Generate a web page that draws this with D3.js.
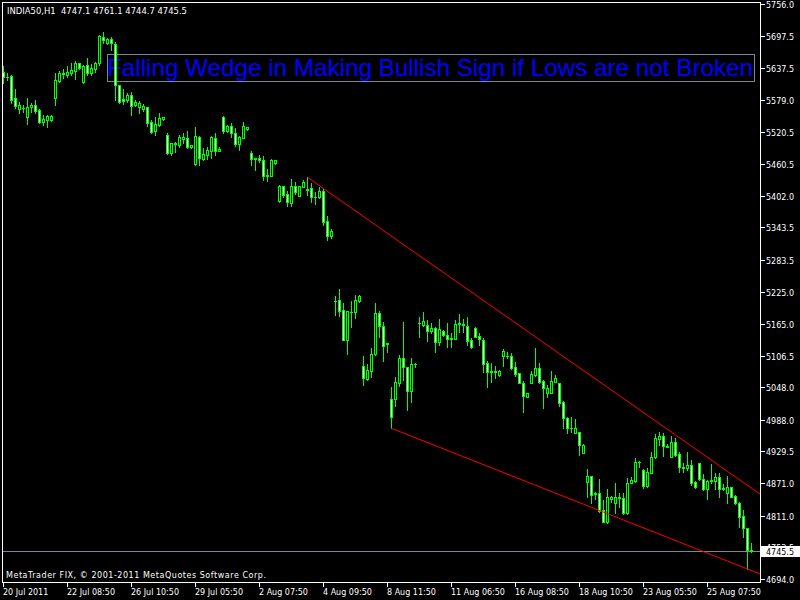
<!DOCTYPE html>
<html><head><meta charset="utf-8">
<script src="https://cdn.jsdelivr.net/npm/d3@7"></script>
<style>html,body{margin:0;padding:0;background:#000;overflow:hidden}</style>
</head><body><svg id="c" width="800" height="600"></svg>
<script>
const symbol = "INDIA50,H1";
const open = [5631.0,5622.0,5623.0,5581.8,5562.1,5563.3,5547.9,5566.4,5568.9,5560.2,5538.7,5541.8,5541.8,5581.8,5614.4,5626.1,5624.3,5628.0,5632.9,5646.4,5612.6,5643.4,5628.0,5635.3,5646.4,5695.7,5683.4,5690.8,5682.1,5606.4,5580.6,5578.7,5587.9,5570.1,5566.4,5562.1,5565.2,5537.5,5521.4,5532.5,5543.0,5513.4,5481.4,5496.8,5495.6,5507.3,5507.9,5491.3,5459.9,5509.7,5469.7,5477.1,5485.1,5507.9,5485.1,5547.9,5522.1,5530.7,5517.1,5496.8,5509.1,5524.5,5481.4,5471.6,5472.2,5467.9,5440.2,5439.0,5463.0,5392.8,5419.9,5404.5,5389.0,5419.9,5402.0,5418.6,5413.7,5415.5,5400.1,5400.1,5410.6,5355.2,5328.1,5208.0,5209.3,5190.8,5135.4,5187.7,5187.7,5207.4,5087.4,5062.8,5078.8,5109.5,5184.7,5161.9,5129.2,5025.8,5025.8,5055.4,5101.5,5084.9,5041.8,5090.4,5167.4,5163.1,5163.1,5152.0,5157.0,5132.3,5152.6,5144.6,5138.5,5137.8,5166.2,5164.4,5161.9,5135.4,5157.0,5142.8,5135.4,5092.3,5078.2,5076.3,5070.2,5106.5,5106.5,5105.3,5084.9,5073.8,5056.6,5030.7,5056.6,5070.8,5083.1,5059.7,5038.1,5038.1,5058.5,5055.4,5020.3,4992.0,4972.3,4964.3,4964.9,4927.3,4873.7,4884.8,4852.2,4852.2,4821.4,4799.9,4842.3,4833.7,4844.8,4843.0,4815.3,4871.9,4875.6,4909.5,4895.3,4866.4,4890.4,4918.7,4953.2,4958.1,4940.2,4919.9,4947.6,4924.2,4901.4,4898.4,4904.5,4873.1,4907.6,4878.7,4859.6,4875.6,4875.6,4881.7,4862.7,4853.4,4863.3,4847.3,4833.7,4810.9,4787.6,4747.1];
const high = [5641.5,5629.0,5625.0,5598.4,5575.6,5569.5,5581.8,5572.5,5578.7,5561.5,5551.0,5551.0,5551.0,5628.0,5632.3,5635.3,5641.5,5646.4,5650.7,5647.7,5643.4,5655.7,5644.6,5648.9,5698.8,5704.9,5692.6,5694.5,5686.5,5606.4,5598.4,5591.0,5592.9,5578.7,5577.5,5570.7,5565.2,5541.8,5547.9,5554.1,5546.7,5517.1,5499.9,5501.7,5514.1,5517.1,5522.1,5495.6,5528.2,5512.2,5489.4,5491.3,5512.2,5517.1,5492.5,5549.1,5532.5,5535.6,5526.4,5512.2,5538.7,5528.2,5485.1,5471.6,5477.1,5475.3,5451.3,5469.7,5467.9,5421.7,5419.9,5410.6,5432.2,5427.2,5419.9,5431.0,5435.9,5424.8,5409.4,5418.6,5415.5,5364.4,5340.4,5217.3,5229.6,5203.1,5189.0,5207.4,5218.5,5218.5,5105.8,5091.0,5120.0,5203.1,5189.0,5168.0,5129.2,5048.0,5066.4,5107.7,5168.0,5084.9,5101.5,5093.5,5177.3,5186.5,5172.3,5167.4,5160.0,5173.6,5154.0,5166.2,5147.7,5172.3,5183.4,5173.6,5177.3,5139.7,5160.0,5147.7,5138.5,5096.6,5093.5,5087.4,5080.0,5118.2,5113.9,5112.0,5094.2,5075.1,5059.7,5038.1,5078.8,5120.0,5092.3,5061.5,5052.3,5078.2,5070.8,5056.6,5022.7,4993.8,4992.6,4988.9,4966.1,4943.3,4897.1,4884.8,4855.3,4878.1,4839.9,4859.6,4847.3,4870.7,4853.4,4852.2,4879.9,4883.0,4916.8,4912.5,4896.5,4898.4,4929.2,4961.8,4966.1,4963.0,4943.3,4958.1,4953.8,4929.2,4907.6,4929.2,4913.8,4875.0,4908.8,4887.9,4876.8,4906.4,4890.4,4890.4,4868.8,4884.2,4864.5,4849.1,4836.8,4821.4,4787.6,4761.1];
const low = [5609.5,5616.0,5573.8,5563.3,5554.1,5557.2,5534.4,5557.2,5554.1,5536.8,5532.5,5529.4,5539.9,5569.5,5612.6,5618.7,5621.8,5624.9,5616.9,5635.3,5609.5,5624.9,5624.9,5631.0,5643.4,5683.4,5682.1,5671.1,5578.7,5572.5,5571.3,5575.6,5551.0,5567.6,5554.1,5559.0,5531.3,5518.4,5514.1,5530.7,5541.8,5479.0,5477.1,5483.3,5491.3,5498.7,5489.4,5489.4,5458.6,5458.6,5467.9,5469.1,5471.0,5477.1,5485.1,5517.1,5520.2,5509.7,5494.4,5486.3,5507.9,5523.3,5458.6,5449.4,5464.8,5431.0,5429.7,5438.3,5460.5,5390.9,5400.1,5382.9,5382.9,5405.0,5401.4,5417.4,5403.2,5390.9,5386.6,5397.1,5347.8,5320.1,5324.4,5181.6,5179.7,5135.4,5109.5,5160.0,5176.6,5206.2,5052.3,5061.5,5067.7,5107.7,5141.6,5097.2,5113.9,4972.3,5013.5,5050.5,5061.5,5006.1,5021.5,5084.9,5141.6,5161.3,5133.5,5149.0,5113.9,5126.2,5142.8,5123.1,5123.1,5136.6,5150.8,5150.8,5126.2,5121.3,5140.3,5126.2,5076.9,5048.0,5058.5,5064.6,5068.9,5088.0,5102.8,5081.2,5069.5,5055.4,5003.0,5030.7,5055.4,5068.9,5056.6,5009.2,5030.7,5036.9,5057.2,5013.5,4972.3,4963.0,4966.1,4963.0,4923.0,4926.1,4844.8,4833.7,4841.1,4818.3,4799.9,4796.8,4835.6,4815.3,4827.6,4814.0,4814.0,4870.7,4873.7,4901.4,4862.7,4864.5,4889.1,4916.8,4941.5,4921.2,4938.4,4918.7,4921.2,4892.2,4892.2,4895.3,4867.6,4862.0,4876.8,4858.3,4841.7,4870.7,4860.8,4844.8,4858.3,4835.0,4844.8,4832.5,4789.4,4772.1,4712.5,4744.7];
const close = [5621.8,5621.0,5578.7,5567.6,5568.9,5564.0,5566.4,5568.9,5558.4,5538.7,5543.6,5549.1,5549.1,5615.6,5628.0,5629.2,5630.4,5634.1,5646.4,5638.4,5641.5,5628.0,5637.2,5646.4,5696.9,5689.5,5690.8,5683.4,5606.4,5575.6,5577.5,5587.9,5568.2,5575.0,5572.5,5567.6,5536.8,5520.2,5533.8,5544.8,5546.7,5481.4,5498.7,5498.7,5509.7,5511.0,5492.5,5495.0,5512.2,5471.0,5479.0,5486.3,5509.7,5485.1,5488.8,5522.1,5530.7,5517.1,5496.8,5509.7,5530.7,5528.2,5469.1,5469.1,5467.9,5439.0,5439.0,5467.9,5467.9,5419.9,5403.2,5390.9,5419.9,5409.4,5419.9,5427.2,5413.0,5400.1,5398.9,5410.6,5354.0,5328.1,5336.7,5207.0,5189.0,5135.4,5189.0,5188.0,5209.3,5216.7,5065.8,5080.0,5109.5,5184.7,5161.3,5124.3,5128.0,4993.8,5057.2,5101.5,5084.9,5041.8,5090.4,5091.0,5167.0,5170.5,5152.6,5157.0,5132.3,5155.1,5144.6,5136.6,5136.6,5165.0,5165.0,5164.0,5134.2,5123.1,5141.6,5136.6,5090.5,5076.9,5076.3,5078.2,5078.2,5115.1,5105.3,5083.1,5072.6,5056.6,5032.6,5036.9,5072.6,5083.1,5058.5,5046.1,5046.1,5059.7,5064.6,5019.7,4990.7,4972.3,4972.0,4972.3,4941.5,4941.5,4884.8,4849.1,4851.0,4820.2,4799.9,4844.8,4844.8,4844.8,4843.0,4815.3,4871.9,4876.8,4909.5,4910.0,4866.4,4891.0,4918.7,4953.8,4958.1,4940.2,4938.4,4947.6,4923.0,4901.4,4898.4,4904.5,4871.9,4863.3,4878.7,4859.6,4875.6,4876.0,4881.7,4860.2,4860.2,4863.3,4846.0,4833.7,4809.1,4787.6,4747.0,4745.5];
const priceTicks = [5756.0,5697.5,5637.5,5579.0,5520.5,5460.5,5402.0,5343.5,5283.5,5225.0,5165.0,5106.5,5048.0,4988.0,4929.5,4871.0,4811.0,4753.5,4694.0];
const timeLabels = ["20 Jul 2011","22 Jul 08:50","26 Jul 10:50","29 Jul 05:50","2 Aug 07:50","4 Aug 09:50","8 Aug 11:50","11 Aug 06:50","16 Aug 08:50","18 Aug 10:50","23 Aug 05:50","25 Aug 07:50"];
const barsPerTimeLabel = 16;
const trendUpper = [[76, 5435.9], [180, 4898.0]];
const trendLower = [[97, 4972.3], [186, 4712.5]];
const annotation = "Falling Wedge in Making Bullish Sign if Lows are not Broken";
const copyright = "MetaTrader FIX, \u00A9 2001-2011 MetaQuotes Software Corp.";

const svg = d3.select("#c");
const PL = 2, PR = 760, PT = 2, PB = 582;
const n = open.length;
const x = d3.scaleLinear().domain([0, n - 1]).range([3.5, 3.5 + 4 * (n - 1)]);
const y = d3.scaleLinear().domain([4694, 5756]).range([579, 4]);
const py = v => Math.round(y(v));
const lime = "#00ff00", grey = "#778899";
const fnt = "'DejaVu Sans', Verdana, sans-serif";

svg.append("rect").attr("width", 800).attr("height", 600).attr("fill", "#000");
svg.append("defs").append("clipPath").attr("id", "plot")
  .append("rect").attr("x", PL + 1).attr("y", PT + 1).attr("width", PR - PL - 1).attr("height", PB - PT - 1);

// frame
const frame = svg.append("g").attr("stroke", "#fff").attr("stroke-width", 1).attr("shape-rendering", "crispEdges");
frame.append("line").attr("x1", PL).attr("x2", PR + 1).attr("y1", PT + 0.5).attr("y2", PT + 0.5);
frame.append("line").attr("x1", PL + 0.5).attr("x2", PL + 0.5).attr("y1", PT).attr("y2", PB + 1);
frame.append("line").attr("x1", PR + 0.5).attr("x2", PR + 0.5).attr("y1", PT).attr("y2", PB + 1);
frame.append("line").attr("x1", PL).attr("x2", PR + 1).attr("y1", PB + 0.5).attr("y2", PB + 0.5);

// annotation box (behind candles)
svg.append("rect").attr("x", 107.5).attr("y", 54.5).attr("width", 647).attr("height", 27)
  .attr("fill", "none").attr("stroke", grey).attr("shape-rendering", "crispEdges");
svg.append("text").attr("x", 107).attr("y", 75.7).attr("font-family", "'Liberation Sans', Arial, sans-serif")
  .attr("font-size", 24).attr("fill", "#0000ff").attr("textLength", 646).attr("lengthAdjust", "spacingAndGlyphs")
  .text(annotation);

// bid line
const last = n - 1;
svg.append("line").attr("x1", PL + 1).attr("x2", PR).attr("y1", py(close[last]) + 0.5).attr("y2", py(close[last]) + 0.5)
  .attr("stroke", grey).attr("shape-rendering", "crispEdges");

// candles
const g = svg.append("g").attr("clip-path", "url(#plot)").attr("shape-rendering", "crispEdges");
d3.range(n).forEach(i => {
  const cx = x(i);
  const yh = py(high[i]), yl = py(low[i]);
  g.append("rect").attr("x", cx - 0.5).attr("y", yh).attr("width", 1).attr("height", yl - yh + 1).attr("fill", lime);
  const top = py(Math.max(open[i], close[i])), bot = py(Math.min(open[i], close[i]));
  if (bot - top < 1) {
    g.append("rect").attr("x", cx - 1.5).attr("y", top).attr("width", 3).attr("height", 1).attr("fill", lime);
  } else {
    g.append("rect").attr("x", cx - 1).attr("y", top + 0.5).attr("width", 2).attr("height", bot - top)
      .attr("fill", close[i] > open[i] ? "#000" : "#fff").attr("stroke", lime).attr("stroke-width", 1);
  }
});

// trend lines (rays to the right edge)
function ray(p) {
  const [b1, v1] = p[0], [b2, v2] = p[1];
  const x1 = x(b1), y1 = y(v1), x2 = x(b2), y2 = y(v2);
  const xe = PR + 1, ye = y1 + (y2 - y1) * (xe - x1) / (x2 - x1);
  svg.append("line").attr("clip-path", "url(#plot)").attr("x1", x1).attr("y1", y1).attr("x2", xe).attr("y2", ye)
    .attr("stroke", "#ff0000").attr("stroke-width", 1);
}
ray(trendUpper); ray(trendLower);

// price axis
const ya = svg.append("g");
priceTicks.forEach(v => {
  const yy = py(v);
  ya.append("rect").attr("x", PR + 1).attr("y", yy).attr("width", 4).attr("height", 1).attr("fill", "#fff");
  ya.append("text").attr("x", 766).attr("y", yy + 3.5).attr("font-family", fnt).attr("font-size", 8)
    .attr("fill", "#fff").text(v.toFixed(1));
});
// bid label
const by = py(close[last]);
svg.append("rect").attr("x", 761).attr("y", by - 5).attr("width", 39).attr("height", 11).attr("fill", "#fff");
svg.append("text").attr("x", 766).attr("y", by + 3.5).attr("font-family", fnt).attr("font-size", 8)
  .attr("fill", "#000").text(close[last].toFixed(1));

// time axis
timeLabels.forEach((t, i) => {
  const xx = Math.floor(x(i * barsPerTimeLabel));
  svg.append("rect").attr("x", xx).attr("y", PB + 1).attr("width", 1).attr("height", 4).attr("fill", "#fff");
  svg.append("text").attr("x", xx).attr("y", 595).attr("font-family", fnt).attr("font-size", 8)
    .attr("fill", "#fff").text(t);
});

// title and copyright
svg.append("text").attr("x", 7).attr("y", 14).attr("font-family", fnt).attr("font-size", 9)
  .attr("fill", "#fff").style("white-space", "pre").attr("textLength", 180).attr("lengthAdjust", "spacingAndGlyphs")
  .text(`${symbol}  ${open[last].toFixed(1)} ${high[last].toFixed(1)} ${low[last].toFixed(1)} ${close[last].toFixed(1)}`);
svg.append("text").attr("x", 6).attr("y", 578).attr("font-family", fnt).attr("font-size", 8)
  .attr("fill", "#fff").attr("textLength", 260).attr("lengthAdjust", "spacing").text(copyright);
</script>
</body></html>
